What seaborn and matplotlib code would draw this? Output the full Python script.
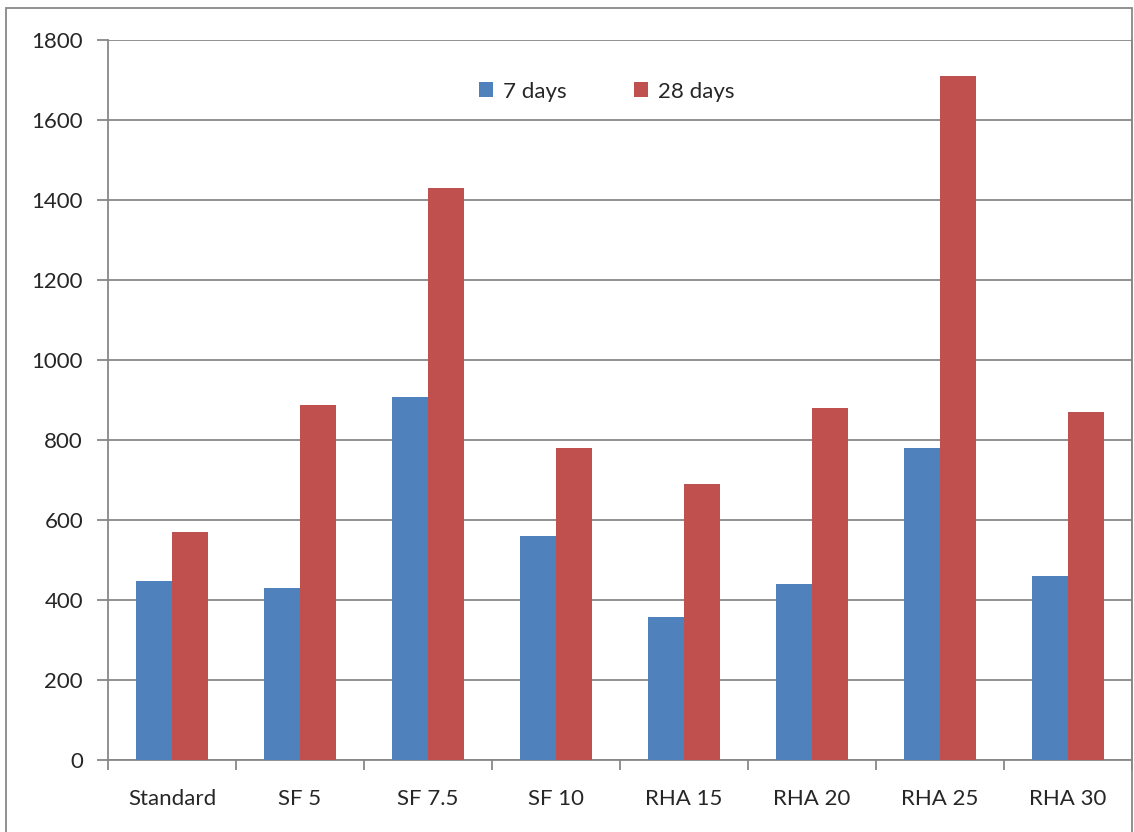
import matplotlib
matplotlib.use("Agg")
import matplotlib.pyplot as plt
import seaborn as sns
import pandas as pd
from matplotlib.patches import Rectangle

# ── data ──────────────────────────────────────────────────────────────────────
categories = ['Standard', 'SF 5', 'SF 7.5', 'SF 10', 'RHA 15', 'RHA 20', 'RHA 25', 'RHA 30']
days_7     = [447, 430, 907, 560, 357, 440, 780, 460]
days_28    = [571, 887, 1430, 780, 690, 880, 1710, 870]
series     = ['7 days', '28 days']
y_ticks    = [0, 200, 400, 600, 800, 1000, 1200, 1400, 1600, 1800]

df = pd.DataFrame({
    'cat': categories * 2,
    'val': days_7 + days_28,
    'series': [series[0]] * len(categories) + [series[1]] * len(categories),
})

sns.set_theme(style='white')
plt.rcParams['font.family'] = ['Lato', 'DejaVu Sans']

fig = plt.figure(figsize=(11.34, 8.32), dpi=100)
ax = fig.add_axes([108 / 1134, 1 - 760 / 832, (1132 - 108) / 1134, 720 / 832])

sns.barplot(data=df, x='cat', y='val', hue='series', order=categories,
            hue_order=series, palette=['#4f81bd', '#c0504d'], width=0.57,
            saturation=1, linewidth=0, ax=ax, zorder=3)

grid_c = '#888888'
ax.set_ylim(0, 1800)
ax.set_yticks(y_ticks)
ax.set_xlim(-0.5, len(categories) - 0.5)
ax.yaxis.grid(True, color=grid_c, linewidth=1.3, zorder=0)
ax.set_axisbelow(True)

for s in ['top', 'right']:
    ax.spines[s].set_visible(False)
for s in ['left', 'bottom']:
    ax.spines[s].set_color(grid_c)
    ax.spines[s].set_linewidth(1.3)

# right edge line of plot area (coincides with outer frame)
ax.axvline(len(categories) - 0.5, color=grid_c, linewidth=1.3, clip_on=False)

# x ticks between categories, labels centred
ax.set_xticks([i - 0.5 for i in range(len(categories) + 1)], minor=False)
ax.set_xticklabels([])
ax.set_xticks(range(len(categories)), minor=True)
ax.set_xticklabels(categories, minor=True, fontsize=16)
ax.tick_params(axis='x', which='major', direction='out', length=7,
               color=grid_c, width=1.3, bottom=True)
ax.tick_params(axis='x', which='minor', length=0, pad=21, bottom=True)
ax.tick_params(axis='y', direction='out', length=8, color=grid_c, width=1.3,
               labelsize=16, pad=10, left=True)
ax.set_xlabel('')
ax.set_ylabel('')

leg = ax.legend(loc='upper center', bbox_to_anchor=(0.487, 0.97), ncol=2,
                frameon=False, fontsize=16, handlelength=0.65, handleheight=0.65,
                columnspacing=3.0, handletextpad=0.45)

# outer chart frame
fig.patches.append(Rectangle((6 / 1134, -0.05), (1132 - 6) / 1134, 1 - 8 / 832 + 0.05,
                             transform=fig.transFigure, fill=False,
                             edgecolor=grid_c, linewidth=1.3))

fig.savefig('out.png', dpi=100)
